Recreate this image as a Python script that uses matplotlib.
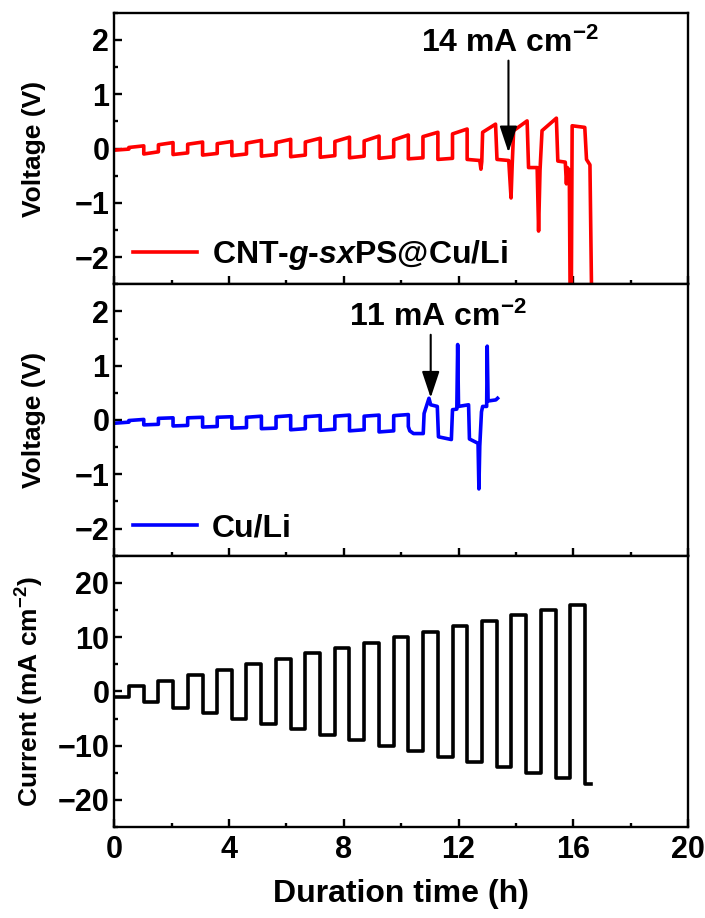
import matplotlib
matplotlib.use('Agg')
import matplotlib.pyplot as plt
from matplotlib.ticker import MultipleLocator

plt.rcParams['font.family'] = ['Liberation Sans', 'DejaVu Sans']
plt.rcParams['font.weight'] = 'bold'
plt.rcParams['mathtext.fontset'] = 'custom'
plt.rcParams['mathtext.rm'] = 'Liberation Sans:bold'
plt.rcParams['mathtext.it'] = 'Liberation Sans:italic:bold'
plt.rcParams['mathtext.bf'] = 'Liberation Sans:bold'

# switch times of the current steps (h)
edges = [0.00, 0.51, 1.03, 1.54, 2.05, 2.56, 3.08, 3.59, 4.10, 4.61, 5.13, 5.64,
         6.15, 6.66, 7.18, 7.69, 8.20, 8.71, 9.23, 9.74, 10.25, 10.76, 11.28,
         11.79, 12.30, 12.81, 13.33, 13.84, 14.35, 14.86, 15.38, 15.89, 16.40, 16.60]
# current density for each step (mA cm-2)
levels = [-1, 1, -2, 2, -3, 3, -4, 4, -5, 5, -6, 6, -7, 7, -8, 8, -9, 9, -10, 10,
          -11, 11, -12, 12, -13, 13, -14, 14, -15, 15, -16, 16, -17]

# CNT-g-sxPS@Cu/Li: voltage at start / end of each regular step
red_seg_start = [-0.03, 0.02, -0.10, 0.07, -0.11, 0.08, -0.12, 0.09, -0.13, 0.10, -0.14, 0.11,
                 -0.15, 0.12, -0.16, 0.13, -0.17, 0.14, -0.18, 0.16, -0.19, 0.22, -0.20, 0.27]
red_seg_end = [-0.01, 0.05, -0.06, 0.11, -0.08, 0.12, -0.09, 0.13, -0.10, 0.15, -0.11, 0.17,
               -0.12, 0.19, -0.13, 0.21, -0.14, 0.23, -0.15, 0.25, -0.17, 0.30, -0.18, 0.36]
# the unstable part after 12.3 h
red_tail_t = [12.30, 12.74, 12.78, 12.81, 12.84, 13.29, 13.34, 13.75, 13.83, 13.87, 13.92,
              14.39, 14.44, 14.74, 14.79, 14.84, 14.91, 15.41, 15.46, 15.72, 15.76, 15.79,
              15.86, 15.89, 15.93, 15.96, 16.40, 16.46, 16.58, 16.64]
red_tail_v = [-0.20, -0.22, -0.38, -0.24, 0.30, 0.45, -0.20, -0.22, -0.91, -0.30, 0.33,
              0.51, -0.35, -0.35, -1.52, -0.40, 0.33, 0.56, -0.23, -0.25, -0.65, -0.35,
              -0.40, -2.8, -2.8, 0.42, 0.39, -0.20, -0.30, -2.8]

# Cu/Li
blue_seg_start = [-0.06, -0.01, -0.09, 0.03, -0.11, 0.04, -0.13, 0.05, -0.15, 0.05,
                  -0.16, 0.06, -0.18, 0.06, -0.19, 0.07, -0.20, 0.07, -0.22, 0.08]
blue_seg_end = [-0.04, 0.01, -0.08, 0.04, -0.10, 0.05, -0.12, 0.06, -0.14, 0.07,
                -0.15, 0.08, -0.16, 0.08, -0.17, 0.09, -0.18, 0.09, -0.20, 0.10]
blue_tail_t = [10.25, 10.30, 10.43, 10.77, 10.80, 10.97, 11.03, 11.26, 11.30, 11.75, 11.79,
               11.94, 11.97, 12.00, 12.35, 12.38, 12.68, 12.71, 12.74, 12.80, 12.84, 12.98,
               13.00, 13.03, 13.30, 13.36]
blue_tail_v = [-0.12, -0.20, -0.25, -0.25, 0.12, 0.40, 0.28, 0.25, -0.31, -0.36, 0.19,
               0.20, 1.39, 0.25, 0.28, -0.35, -0.43, -1.27, -0.48, 0.15, 0.25, 0.25,
               1.36, 0.35, 0.37, 0.40]


def build_curve(seg_start, seg_end, tail_t, tail_v):
    t, v = [], []
    for k in range(len(seg_start)):
        t += [edges[k], edges[k + 1]]
        v += [seg_start[k], seg_end[k]]
    return t + tail_t, v + tail_v


fs = 22
fig, (ax1, ax2, ax3) = plt.subplots(3, 1, sharex=True, figsize=(7.05, 9.18), dpi=100)
fig.subplots_adjust(left=0.162, right=0.976, top=0.986, bottom=0.099, hspace=0)

t_red, v_red = build_curve(red_seg_start, red_seg_end, red_tail_t, red_tail_v)
t_blue, v_blue = build_curve(blue_seg_start, blue_seg_end, blue_tail_t, blue_tail_v)

ax1.plot(t_red, v_red, color='#ff0000', lw=2.6, label='CNT-$\\mathit{g}$-$\\mathit{sx}$PS@Cu/Li')
ax2.plot(t_blue, v_blue, color='#0000ff', lw=2.6, label='Cu/Li')
ax3.step(edges, levels + [levels[-1]], where='post', color='black', lw=2.6)

for ax in (ax1, ax2):
    ax.set_ylim(-2.5, 2.5)
    ax.yaxis.set_major_locator(MultipleLocator(1))
    ax.yaxis.set_minor_locator(MultipleLocator(0.5))
    ax.set_ylabel('Voltage (V)', fontsize=19, fontweight='bold')
    ax.legend(loc='lower left', bbox_to_anchor=(0.0, -0.025), frameon=False, fontsize=23,
              handlelength=2.0, handletextpad=0.45, borderaxespad=0.2)

ax3.set_ylim(-25, 25)
ax3.yaxis.set_major_locator(MultipleLocator(10))
ax3.yaxis.set_minor_locator(MultipleLocator(5))
ax3.set_ylabel('Current (mA cm$^{-2}$)', fontsize=19, fontweight='bold')
ax3.set_xlim(0, 20)
ax3.xaxis.set_major_locator(MultipleLocator(4))
ax3.xaxis.set_minor_locator(MultipleLocator(2))
ax3.set_xlabel('Duration time (h)', fontsize=23, fontweight='bold', labelpad=10)

for ax in (ax1, ax2, ax3):
    for s in ax.spines.values():
        s.set_linewidth(1.7)
    ax.tick_params(which='both', direction='in', width=1.7, labelsize=fs,
                   top=False, right=False)
    ax.tick_params(which='major', length=6)
    ax.tick_params(which='minor', length=3)
    ax.tick_params(axis='x', pad=6)
    ax.yaxis.set_label_coords(-0.118, 0.5)

ax1.text(13.8, 1.93, '14 mA cm$^{-2}$', fontsize=23, fontweight='bold', ha='center', va='center')
ax1.annotate('', xy=(13.74, -0.07), xytext=(13.74, 1.62),
             arrowprops=dict(arrowstyle='-|>,head_length=0.9,head_width=0.3', color='black',
                             lw=1.5, mutation_scale=18, shrinkA=0, shrinkB=0))
ax2.text(11.3, 1.89, '11 mA cm$^{-2}$', fontsize=23, fontweight='bold', ha='center', va='center')
ax2.annotate('', xy=(11.03, 0.41), xytext=(11.03, 1.57),
             arrowprops=dict(arrowstyle='-|>,head_length=0.9,head_width=0.3', color='black',
                             lw=1.5, mutation_scale=18, shrinkA=0, shrinkB=0))

plt.savefig('out.png', dpi=100)
